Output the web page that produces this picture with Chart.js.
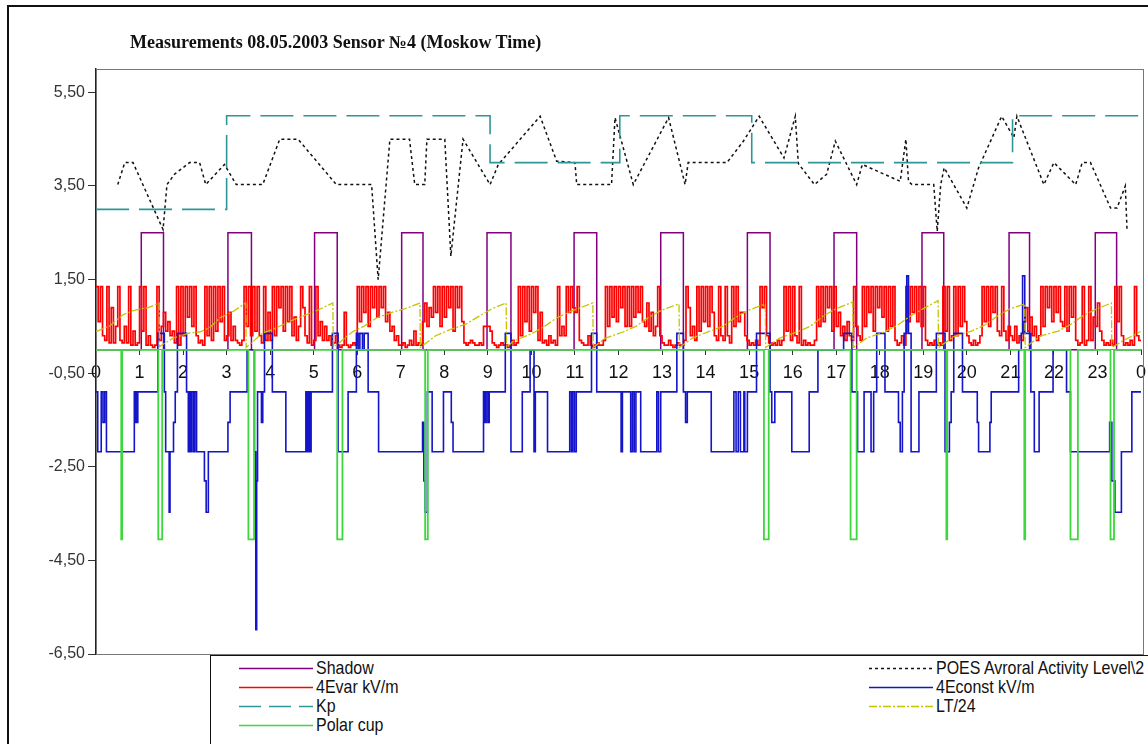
<!DOCTYPE html>
<html>
<head>
<meta charset="utf-8">
<script src="https://cdn.jsdelivr.net/npm/chart.js@4.4.0/dist/chart.umd.min.js"></script>
<style>
  body { margin: 0; background: #fff; }
  #wrap { position: relative; width: 1148px; height: 744px; overflow: hidden; background: #fff; }
  #outer { position: absolute; left: 7px; top: 5px; width: 1200px; height: 800px; border: 2px solid #111; }
  #myChart { position: absolute; left: 0; top: 0; }
  #title { position: absolute; left: 130px; top: 32px; font: bold 18px 'Liberation Serif', 'Times New Roman', serif; color: #111; white-space: nowrap; line-height: 20px; }
  #legend { position: absolute; left: 210px; top: 655px; width: 1000px; height: 120px; border: 1.5px solid #111; background: #fff;
            font: 19px 'Liberation Sans', Arial, sans-serif; color: #111; }
  .item { position: absolute; height: 19px; display: flex; align-items: center; white-space: nowrap; }
  .item svg { margin-right: 3px; }
  .item span { display: inline-block; transform: scaleX(0.84); transform-origin: left center; }
</style>
</head>
<body>
<div id="wrap">
  <div id="outer"></div>
  <canvas id="myChart" width="1148" height="744"></canvas>
  <div id="title">Measurements 08.05.2003 Sensor №4 (Moskow Time)</div>
  <div id="legend"></div>
</div>
<script>
const hourLabels = ['0','1','2','3','4','5','6','7','8','9','10','11','12','13','14','15','16','17','18','19','20','21','22','23','0'];
const yTicks = [-6.5, -4.5, -2.5, -0.5, 1.5, 3.5, 5.5];
const seriesNames = ['Shadow', 'POES Avroral Activity Level\\2', '4Evar kV/m', '4Econst kV/m', 'Kp', 'LT/24', 'Polar cup'];

// Shadow: on / off hours, level when in shadow
const shadowOn  = [1.04, 3.03, 5.02, 7.02, 8.98, 10.98, 12.97, 14.96, 16.95, 18.97, 20.97, 22.95];
const shadowOff = [1.55, 3.57, 5.54, 7.51, 9.53, 11.50, 13.49, 15.48, 17.47, 19.47, 21.44, 23.44];
const shadowLevel = 2.5;

// Polar cup: start / end hours of each drop, drop level
const cupStart = [0.58, 1.43, 3.50, 5.54, 7.56, 15.34, 17.33, 19.53, 21.32, 22.38, 23.30];
const cupEnd   = [0.60, 1.52, 3.63, 5.66, 7.62, 15.45, 17.47, 19.55, 21.34, 22.55, 23.38];
const cupLevel = -4.05;

// Kp: [hour, value], held until next change
const kpSteps = [[0, 3], [3.0, 5], [9.05, 4], [12.03, 5], [15.06, 4], [21.05, 5], [24, 5]];

// POES auroral activity level / 2: [hour, value]
const poes = [
  [0.5, 3.53], [0.66, 4.0], [0.85, 4.0], [1.54, 2.57], [1.63, 3.53], [1.8, 3.75], [2.15, 4.0], [2.38, 4.0],
  [2.52, 3.53], [2.95, 3.96], [3.22, 3.53], [3.83, 3.53], [4.22, 4.5], [4.64, 4.5], [5.52, 3.53], [6.33, 3.53],
  [6.48, 1.5], [6.75, 4.5], [7.2, 4.5], [7.32, 3.53], [7.55, 3.53], [7.6, 4.5], [8.01, 4.5], [8.15, 2.0],
  [8.43, 4.5], [9.05, 3.53], [9.24, 3.96], [10.2, 4.99], [10.58, 4.03], [11.0, 4.0], [11.04, 3.53], [11.84, 3.53],
  [11.92, 4.96], [12.34, 3.53], [13.15, 4.96], [13.53, 3.53], [13.6, 4.0], [14.49, 4.0], [14.87, 4.46], [15.23, 4.99],
  [15.8, 4.1], [16.06, 4.99], [16.13, 3.98], [16.5, 3.53], [16.78, 3.75], [16.98, 4.46], [17.09, 4.25], [17.47, 3.53],
  [17.6, 3.96], [18.47, 3.6], [18.6, 4.5], [18.66, 3.6], [18.74, 3.53], [19.24, 3.53], [19.32, 2.53], [19.4, 3.53],
  [19.48, 3.89], [20.0, 3.03], [20.27, 3.89], [20.8, 4.99], [21.08, 4.53], [21.15, 4.99], [21.77, 3.53], [22.0, 4.0],
  [22.5, 3.53], [22.65, 4.0], [22.84, 4.0], [23.3, 3.03], [23.45, 3.03], [23.64, 3.5], [23.68, 2.53]
];

// LT/24: [hour, value]
const lt24 = [
  [0, 0.39], [0.3, 0.5], [0.62, 0.75], [0.9, 0.85], [1.2, 0.9], [1.45, 1.0],
  [1.46, 0.07], [1.77, 0.25], [2.15, 0.36], [2.38, 0.38], [2.61, 0.47], [2.84, 0.68], [3.15, 0.82], [3.44, 1.0],
  [3.45, 0.05], [3.83, 0.36], [4.1, 0.45], [4.45, 0.61], [4.75, 0.72], [5.1, 0.85], [5.44, 1.0],
  [5.45, 0.05], [5.9, 0.39], [6.15, 0.5], [6.44, 0.68], [6.8, 0.8], [7.1, 0.88], [7.44, 1.0],
  [7.45, 0.05], [7.8, 0.3], [8.13, 0.43], [8.5, 0.55], [8.8, 0.72], [9.1, 0.88], [9.42, 1.0],
  [9.43, 0.05], [9.58, 0.18], [10.04, 0.36], [10.3, 0.5], [10.58, 0.68], [10.9, 0.82], [11.41, 1.0],
  [11.42, 0.05], [11.7, 0.25], [12.1, 0.38], [12.4, 0.5], [12.7, 0.7], [13.0, 0.85], [13.39, 0.98],
  [13.4, 0.05], [13.7, 0.25], [14.1, 0.4], [14.4, 0.5], [14.7, 0.7], [15.0, 0.85], [15.37, 0.98],
  [15.38, 0.05], [15.7, 0.25], [16.1, 0.38], [16.4, 0.5], [16.7, 0.72], [17.0, 0.88], [17.38, 1.02],
  [17.39, 0.05], [17.7, 0.25], [18.1, 0.38], [18.4, 0.52], [18.7, 0.72], [19.0, 0.88], [19.34, 1.05],
  [19.35, 0.05], [19.7, 0.28], [20.1, 0.4], [20.4, 0.52], [20.7, 0.72], [21.0, 0.88], [21.33, 0.98],
  [21.34, 0.05], [21.7, 0.3], [22.1, 0.4], [22.4, 0.55], [22.7, 0.75], [23.0, 0.88], [23.32, 1.0],
  [23.33, 0.05], [23.6, 0.2], [23.99, 0.39]
];

// 4Econst: [hour, value], held until next change
const econst = [
  [0.00, -0.9], [0.04, -2.18], [0.12, -0.9], [0.16, -1.55], [0.20, -0.9], [0.24, -2.18], [0.88, -0.9], [0.90, -1.55],
  [0.92, -0.9], [0.94, -1.55], [0.96, -0.9], [1.42, 0.35], [1.57, -0.9], [1.60, -2.18], [1.68, -3.47], [1.70, -2.18],
  [1.78, -1.55], [1.82, -0.9], [1.87, 0.35], [2.08, -0.9], [2.12, -2.18], [2.14, -0.9], [2.17, -2.18], [2.20, -0.9],
  [2.24, -2.18], [2.27, -0.9], [2.31, -2.18], [2.49, -2.8], [2.53, -3.47], [2.58, -2.18], [3.03, -1.55], [3.08, -0.9],
  [3.47, 0.0], [3.64, -2.18], [3.67, -5.98], [3.69, -2.8], [3.71, -0.9], [3.80, -1.55], [3.83, -0.9], [3.87, 0.35],
  [4.05, -0.9], [4.36, -2.18], [4.82, -0.9], [4.85, -2.18], [4.88, -0.9], [4.91, -2.18], [4.94, -0.9], [5.43, 0.35],
  [5.56, -2.18], [5.79, -0.9], [5.98, 0.35], [6.02, 0.0], [6.06, 0.35], [6.12, 0.0], [6.16, 0.35], [6.25, -0.9],
  [6.49, -2.18], [7.50, -1.55], [7.53, -2.8], [7.56, -3.47], [7.61, -0.9], [7.72, -2.18], [7.98, -0.9], [8.16, -1.55],
  [8.20, -2.18], [8.90, -0.9], [8.93, -1.55], [8.96, -0.9], [9.00, -1.55], [9.03, -0.9], [9.40, 0.35], [9.53, -2.18],
  [9.79, -0.9], [9.97, 0.0], [10.06, -2.18], [10.09, -0.9], [10.37, -2.18], [10.88, -0.9], [10.92, -2.18], [10.95, -0.9],
  [10.99, -2.18], [11.03, -0.9], [11.38, 0.35], [11.50, -0.9], [12.06, -2.18], [12.09, -0.9], [12.28, -2.18], [12.32, -0.9],
  [12.36, -2.18], [12.40, -0.9], [12.51, -2.18], [12.88, -0.9], [12.92, -2.18], [12.97, -0.9], [13.34, 0.35], [13.49, -0.9],
  [13.54, -1.55], [13.58, -0.9], [14.13, -2.18], [14.65, -0.9], [14.70, -2.18], [14.75, -0.9], [14.80, -2.18], [14.88, -0.9],
  [14.90, -2.18], [14.96, -0.9], [15.17, 0.35], [15.48, -0.9], [15.52, -1.55], [15.59, -0.9], [15.98, -2.18], [16.38, -0.9],
  [16.58, 0.0], [17.17, 0.35], [17.36, -0.9], [17.49, -2.18], [17.64, -0.9], [17.80, -2.18], [17.86, -0.9], [17.93, 0.35],
  [18.12, -0.9], [18.43, -1.55], [18.47, -2.18], [18.52, -0.9], [18.56, 0.35], [18.62, 1.58], [18.66, 0.35], [18.72, -2.18],
  [18.90, -0.9], [19.30, 0.35], [19.50, -2.18], [19.60, -1.55], [19.64, -0.9], [19.70, 0.35], [19.90, -0.9], [20.24, -1.55],
  [20.27, -2.18], [20.53, -1.55], [20.56, -0.9], [21.19, 0.0], [21.25, 0.35], [21.28, 1.58], [21.33, 0.35], [21.47, -0.9],
  [21.55, -2.18], [21.66, -0.9], [21.98, 0.0], [22.29, -0.9], [22.38, -2.18], [23.28, -1.55], [23.33, -2.8], [23.40, -3.47],
  [23.55, -2.18], [23.79, -0.9], [24.00, -0.9]
];

// 4Evar: one reading every 0.05 h, one row per hour
const evarStep = 0.05;
const evar = [
  1.35,0.6,1.35,0.3,0.2,1.35,0.15,0.9,0.15,0.5, 1.35,0.2,0.15,0.5,0.15,1.35,0.1,0.4,0.1,0.15,
  1.35,0.4,1.35,0.1,0.3,0.1,0.05,0.1,1.35,0.2, 0.5,0.8,0.4,0.6,0.3,0.4,0.15,1.35,0.1,1.35,
  0.3,1.35,0.7,1.35,0.5,1.35,0.3,0.15,0.2,0.1, 1.35,0.3,1.35,0.2,1.35,0.4,1.35,0.6,1.35,0.2,
  0.3,0.8,0.2,0.5,0.2,0.15,0.1,0.2,1.35,0.5, 1.35,0.3,1.35,0.4,1.35,0.3,0.15,1.35,0.2,0.8,
  0.2,1.35,0.3,1.35,0.9,1.35,0.4,1.35,0.6,1.35, 0.3,0.7,0.2,0.5,1.35,0.9,0.3,0.15,1.35,0.1,
  0.2,1.35,0.3,0.6,0.2,0.5,0.2,0.3,0.1,0.15, 0.3,0.1,0.05,0.1,0.8,0.1,0.05,0.1,0.15,0.1,
  1.35,0.6,1.35,0.8,1.35,0.5,1.35,0.9,1.35,0.7, 1.35,0.9,1.35,0.6,0.8,0.4,0.5,0.2,0.3,0.1,
  0.1,0.15,0.05,0.1,0.2,0.1,0.4,0.1,0.15,0.1, 0.6,1.0,0.5,0.9,0.7,1.35,0.8,1.35,0.5,1.35,
  0.7,1.35,0.9,1.35,0.4,1.35,0.9,1.35,0.6,0.15, 0.1,0.15,0.2,0.15,0.1,0.1,0.15,0.1,0.5,0.5,
  0.5,0.4,0.15,0.1,0.05,0.1,0.15,0.1,0.1,0.05, 0.1,0.2,0.1,0.15,1.35,0.3,1.35,0.6,1.35,0.4,
  1.35,0.8,1.35,0.2,0.8,0.15,0.2,0.1,0.3,0.15, 0.2,0.1,1.35,0.3,0.5,0.3,1.35,0.8,1.35,0.9,
  0.8,1.35,0.2,0.15,0.1,0.1,0.3,0.1,0.05,0.1, 0.15,0.1,0.1,0.2,1.35,0.5,1.35,0.7,1.35,0.6,
  1.35,0.9,1.35,0.5,1.35,0.5,1.35,0.7,1.35,0.8, 1.35,0.6,0.5,1.0,0.4,0.8,0.3,0.5,1.35,0.3,
  0.15,0.1,0.1,0.2,0.1,0.05,0.1,0.15,0.1,0.1, 0.2,1.35,0.9,0.3,0.5,0.2,1.35,0.4,1.35,0.6,
  1.35,0.5,1.35,0.8,0.3,0.2,1.35,0.3,0.2,1.35, 0.3,0.15,1.35,0.5,1.35,0.6,0.8,0.8,0.3,0.2,
  0.1,0.15,0.1,0.2,0.1,1.35,0.9,1.35,0.3,0.15, 0.1,0.15,0.1,0.2,0.1,0.2,1.35,0.4,1.35,0.2,
  1.35,0.3,0.15,1.35,0.1,0.2,0.1,0.15,0.1,0.1, 0.2,1.35,0.5,1.35,0.6,1.35,0.9,1.35,0.4,1.35,
  0.5,0.8,0.3,0.5,0.2,0.6,0.3,0.2,1.35,0.5, 0.3,0.2,1.35,0.5,1.35,0.8,1.35,0.4,1.35,0.9,
  1.35,0.7,1.35,0.4,1.35,0.5,1.35,0.2,0.1,0.15, 0.3,0.1,1.35,0.6,1.35,0.8,1.35,0.6,1.35,0.5,
  1.35,0.2,0.1,0.15,0.1,0.2,0.1,0.15,0.1,1.35, 0.4,1.35,0.2,0.3,1.35,0.3,1.35,0.5,1.35,0.6,
  0.3,0.15,0.1,0.2,0.1,0.15,0.3,1.35,0.6,1.35, 0.5,1.35,0.8,1.35,0.4,0.3,1.35,0.4,0.2,0.5,
  0.3,0.2,0.5,0.15,0.3,0.2,0.6,0.9,0.4,0.7, 0.3,0.5,0.2,0.3,1.35,0.5,1.35,0.9,1.35,0.6,
  1.35,0.8,1.35,0.6,0.5,1.35,0.4,1.35,0.7,1.35, 0.2,0.1,0.15,1.35,0.1,0.2,1.35,0.2,0.7,0.5,
  1.0,0.4,0.2,0.1,0.15,0.1,0.2,0.1,1.35,0.6, 1.35,0.3,0.1,0.15,0.1,0.2,0.1,1.35,0.3,0.2
];

// ---- build point lists from the arrays above ----
function pulses(starts, ends, level) {
  const pts = [{x: 0, y: 0}];
  starts.forEach((s, i) => { pts.push({x: s, y: level}); pts.push({x: ends[i], y: 0}); });
  pts.push({x: 24, y: 0});
  return pts;
}
const pairs = (arr) => arr.map(p => ({x: p[0], y: p[1]}));
const evarPts = evar.map((v, i) => ({x: i * evarStep, y: v}));
evarPts.push({x: 24, y: evar[evar.length - 1]});

const styles = {
  'Shadow':       {color: '#800080', width: 1.5, dash: []},
  'POES Avroral Activity Level\\2': {color: '#111111', width: 1.5, dash: [3, 3]},
  '4Evar kV/m':   {color: '#ff0000', width: 1.7, dash: []},
  '4Econst kV/m': {color: '#1414c8', width: 1.6, dash: []},
  'Kp':           {color: '#2e9696', width: 1.6, dash: [33, 10]},
  'LT/24':        {color: '#c4c400', width: 1.3, dash: [8, 2, 2, 2]},
  'Polar cup':    {color: '#3cd83c', width: 1.8, dash: []}
};

const seriesData = [
  pulses(shadowOn, shadowOff, shadowLevel),
  pairs(poes),
  evarPts,
  pairs(econst),
  pairs(kpSteps),
  pairs(lt24),
  pulses(cupStart, cupEnd, cupLevel)
];
const stepped = [true, false, true, true, true, false, true];

const datasets = seriesNames.map((name, i) => ({
  label: name,
  data: seriesData[i],
  borderColor: styles[name].color,
  borderWidth: styles[name].width,
  borderDash: styles[name].dash,
  stepped: stepped[i],
  pointRadius: 0,
  fill: false,
  order: seriesNames.length - i
}));

const framePlugin = {
  id: 'frame',
  beforeDatasetsDraw(chart) {
    const {ctx, chartArea: a} = chart;
    ctx.save();
    ctx.strokeStyle = '#777';
    ctx.lineWidth = 1;
    ctx.strokeRect(a.left + 0.5, a.top + 0.5, a.right - a.left + 2, a.bottom - a.top);
    ctx.restore();
  }
};

const ctx = document.getElementById('myChart');
const config = {
  type: 'line',
  data: { datasets: datasets },
  options: {
    responsive: false,
    animation: false,
    events: [],
    layout: { padding: { top: 69, right: 7, bottom: 90, left: 0 } },
    plugins: { legend: { display: false }, tooltip: { enabled: false } },
    elements: { line: { tension: 0 } },
    scales: {
      x: {
        type: 'linear', min: 0, max: 24,
        position: { y: 0 },
        afterFit: (scale) => { scale.paddingLeft = 0; scale.paddingRight = 0; },
        grid: { drawOnChartArea: false, tickLength: 5, color: '#333' },
        border: { display: true, color: '#888' },
        ticks: {
          stepSize: 1, autoSkip: false, maxRotation: 0, padding: 7, color: '#111',
          font: { family: "'Liberation Sans', Arial, sans-serif", size: 18 },
          callback: (v, i) => hourLabels[i]
        }
      },
      y: {
        min: -6.5, max: 6,
        afterBuildTicks: (scale) => { scale.ticks = yTicks.map(v => ({ value: v })); },
        afterFit: (scale) => { scale.width = 96; },
        grid: { drawOnChartArea: false, tickLength: 8, color: '#333' },
        border: { display: true, color: '#222', width: 1.5 },
        ticks: {
          padding: 3, color: '#333',
          font: { family: "'Liberation Sans', Arial, sans-serif", size: 16 },
          callback: (v) => v.toFixed(2).replace('.', ',')
        }
      }
    }
  },
  plugins: [framePlugin]
};
const myChart = new Chart(ctx, config);

// legend, two columns like the original
const legend = document.getElementById('legend');
seriesNames.forEach((name, i) => {
  const st = styles[name];
  const col2 = i % 2 === 1;
  const sampleW = col2 ? 64 : 74;
  const item = document.createElement('div');
  item.className = 'item';
  item.style.left = (col2 ? 658 : 28) + 'px';
  item.style.top = (2 + Math.floor(i / 2) * 19) + 'px';
  const svgNS = 'http://www.w3.org/2000/svg';
  const svg = document.createElementNS(svgNS, 'svg');
  svg.setAttribute('width', sampleW);
  svg.setAttribute('height', 18);
  const line = document.createElementNS(svgNS, 'line');
  line.setAttribute('x1', 0); line.setAttribute('y1', 9.5);
  line.setAttribute('x2', sampleW); line.setAttribute('y2', 9.5);
  line.setAttribute('stroke', st.color);
  line.setAttribute('stroke-width', 1.5);
  if (st.dash.length) line.setAttribute('stroke-dasharray', name === 'Kp' ? '22 8' : st.dash.join(' '));
  svg.appendChild(line);
  const label = document.createElement('span');
  label.textContent = name;
  item.appendChild(svg);
  item.appendChild(label);
  legend.appendChild(item);
});
</script>
</body>
</html>
